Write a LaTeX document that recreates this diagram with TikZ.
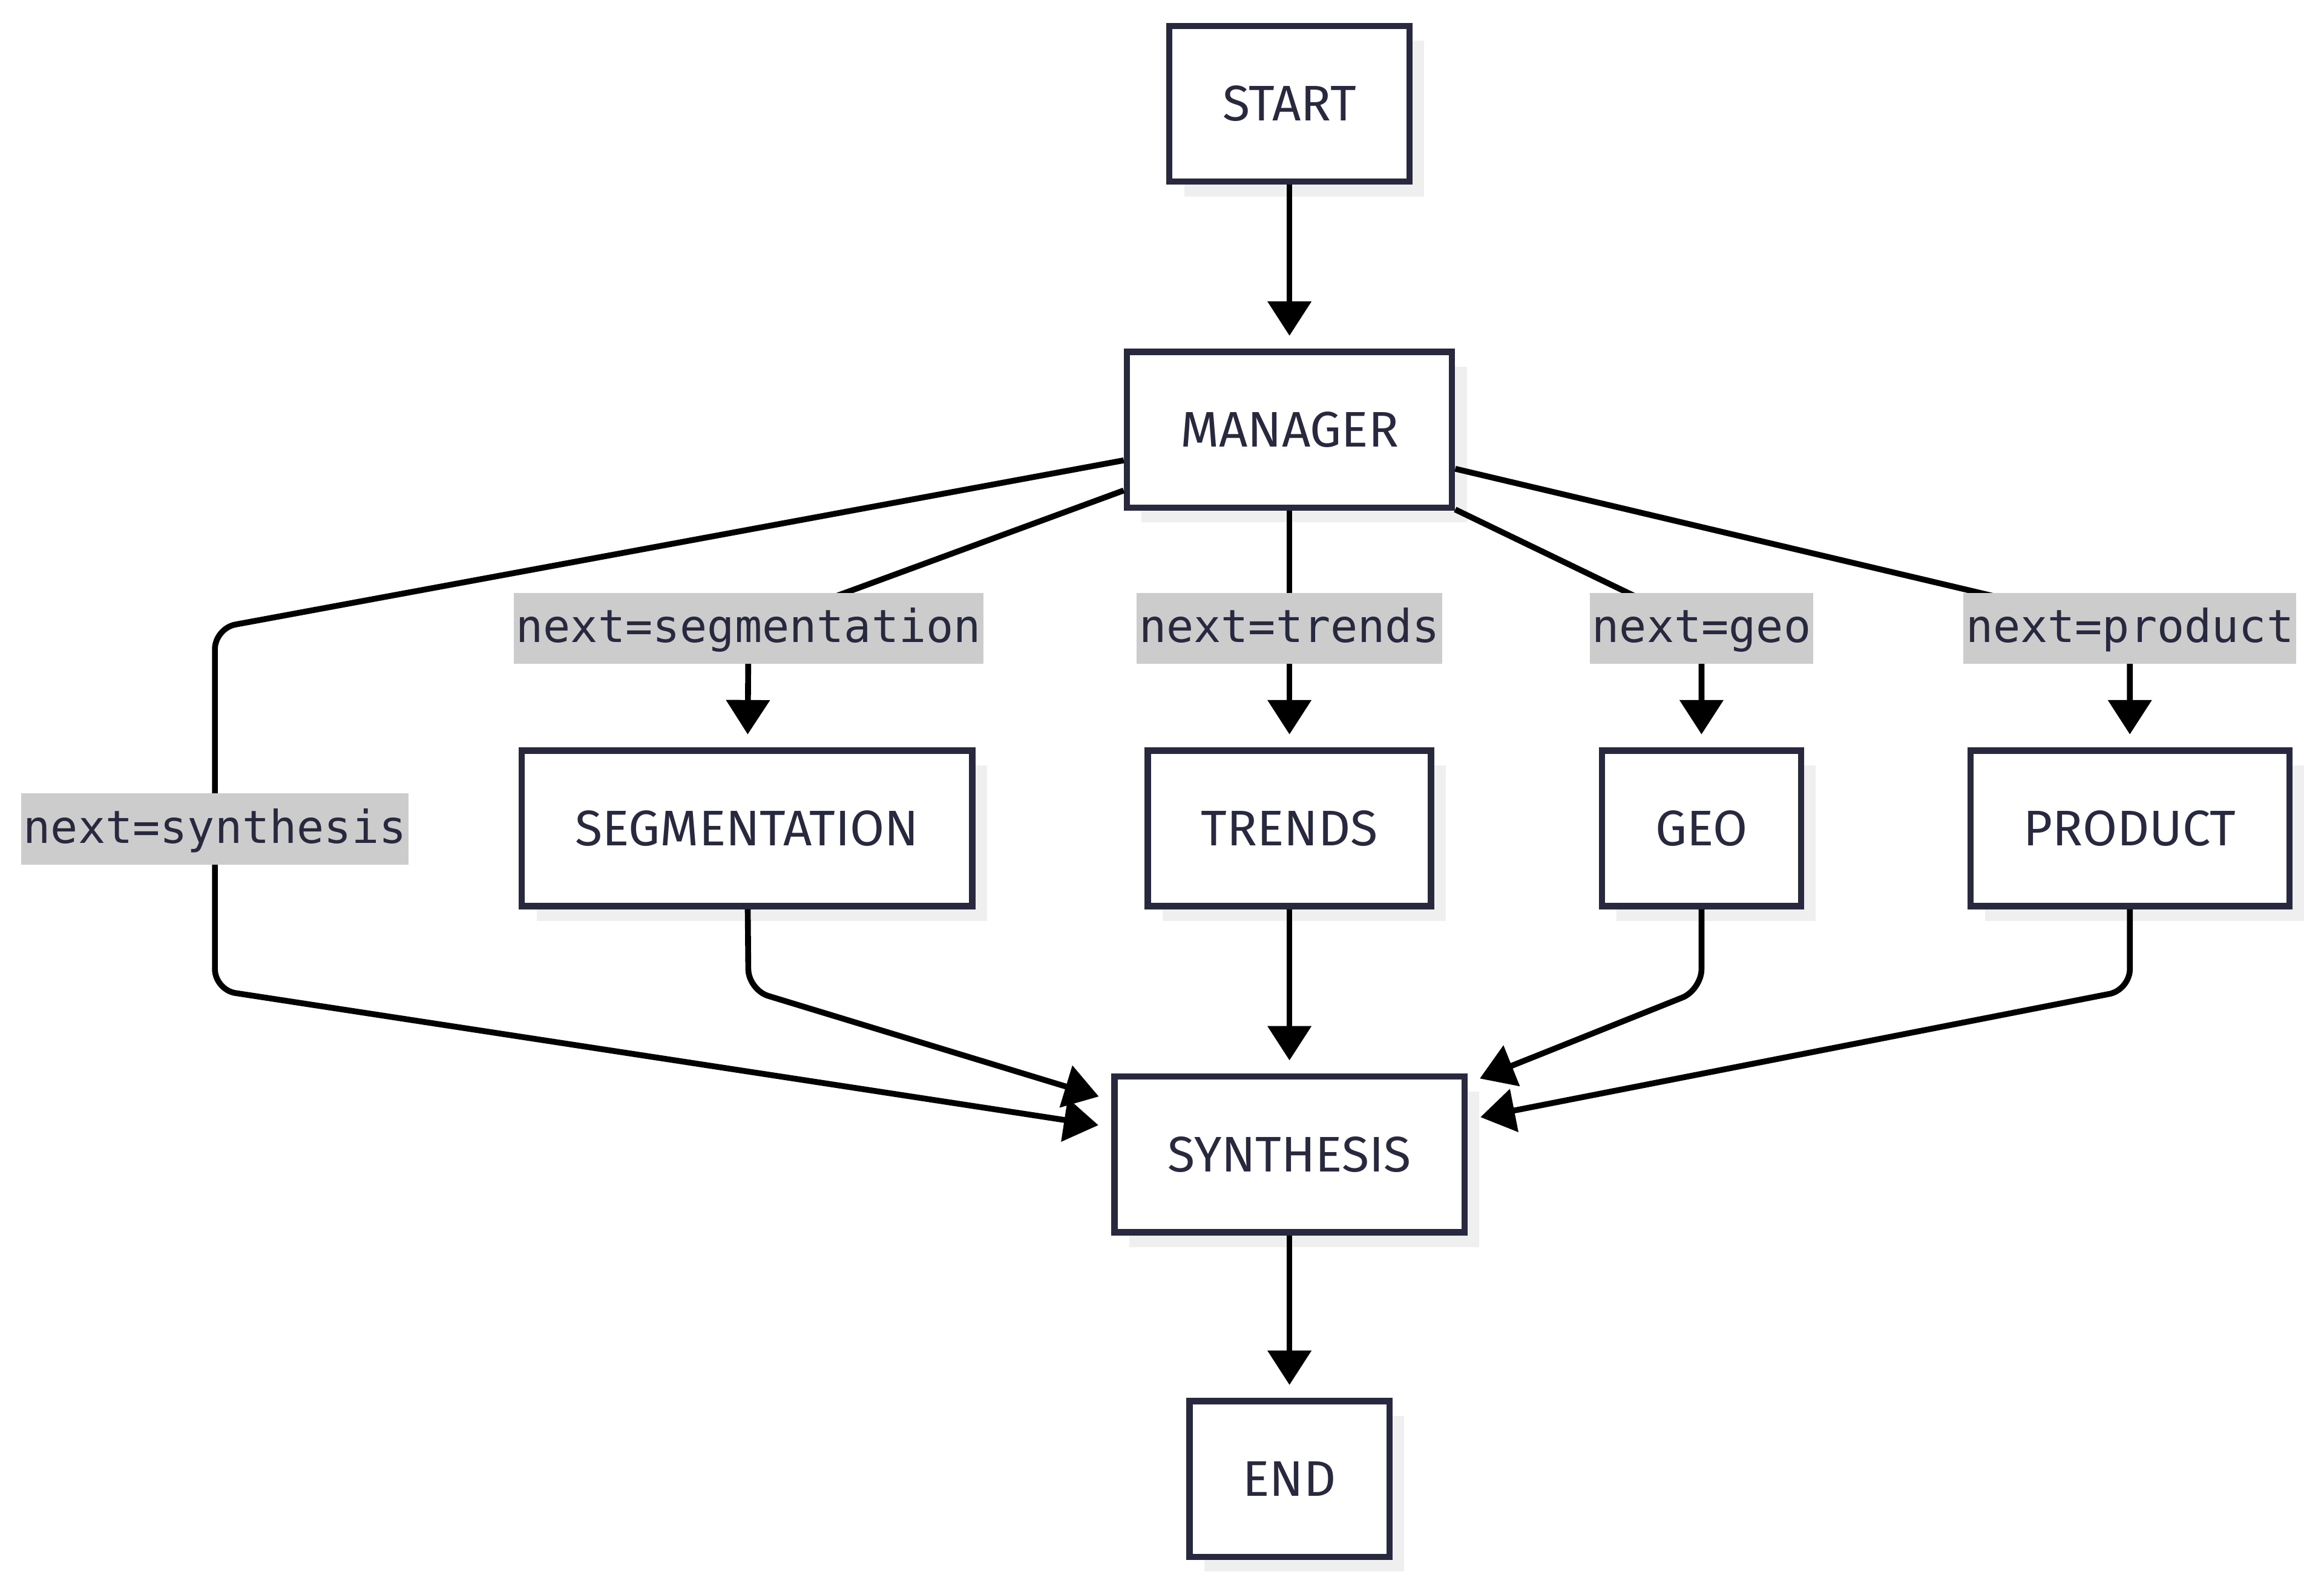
\documentclass[tikz,border=0pt]{standalone}
\usepackage{fontspec}
\setmainfont{Fira Sans}
\newfontfamily\labelfont{DejaVu Sans Mono}
\usepackage{tikz}
\usetikzlibrary{arrows.meta,shadows}
\definecolor{ink}{HTML}{28283E}
\definecolor{shade}{HTML}{EFEFEF}
\definecolor{lblgray}{HTML}{CCCCCC}

\begin{document}
\begin{tikzpicture}[>={Triangle[length=0.58cm,width=0.72cm]},shorten >=0.22cm,
  x=0.025cm,y=-0.025cm,line width=2.8pt,
  main node/.style={rectangle,draw=ink,line width=3pt,fill=white,text=ink,
    font=\fontsize{24}{28}\selectfont,minimum height=2.625cm,inner xsep=0.9cm,
    drop shadow={shadow xshift=0.25cm,shadow yshift=-0.25cm,fill=shade,opacity=1}},
  edge node/.style={sharp corners,fill=lblgray,text=ink,font=\labelfont\fontsize{21.8}{26}\selectfont,
    inner xsep=0.04cm,inner ysep=0.24cm,text height=0.6cm,text depth=0.12cm}]
  \useasboundingbox (0,0) rectangle (1568,1072);

  \node[main node] (start)        at (870,70)   {START};
  \node[main node] (manager)      at (870,290)  {MANAGER};
  \node[main node] (segmentation) at (504,559)  {SEGMENTATION};
  \node[main node] (trends)       at (870,559)  {TRENDS};
  \node[main node] (geo)          at (1148,559) {GEO};
  \node[main node] (product)      at (1437,559) {PRODUCT};
  \node[main node] (synthesis)    at (870,779)  {SYNTHESIS};
  \node[main node] (stop)         at (870,998)  {END};

  % bend points of the connectors
  \coordinate (m1) at (145,424);
  \coordinate (m2) at (505,424);
  \coordinate (m3) at (870,424);
  \coordinate (m4) at (1148,424);
  \coordinate (m5) at (1437,424);
  \coordinate (s1) at (145,668);
  \coordinate (s2) at (505,668);
  \coordinate (s4) at (1148,668);
  \coordinate (s5) at (1437,668);

  \draw[->] (start) -- (manager);
  \draw[->,rounded corners=0.35cm] (manager) -- (m1) -- node[edge node,pos=0.555] {next=synthesis} (s1) -- (synthesis);
  \draw[->,rounded corners=0.35cm] (manager) -- (m2) node[edge node] {next=segmentation} -- (segmentation);
  \draw[->] (manager) -- (m3) node[edge node] {next=trends} -- (trends);
  \draw[->,rounded corners=0.35cm] (manager) -- (m4) node[edge node] {next=geo} -- (geo);
  \draw[->,rounded corners=0.35cm] (manager) -- (m5) node[edge node] {next=product} -- (product);
  \draw[->,rounded corners=0.35cm] (segmentation) -- (s2) -- (synthesis);
  \draw[->] (trends) -- (synthesis);
  \draw[->,rounded corners=0.35cm] (geo) -- (s4) -- (synthesis);
  \draw[->,rounded corners=0.35cm] (product) -- (s5) -- (synthesis);
  \draw[->] (synthesis) -- (stop);
\end{tikzpicture}
\end{document}
